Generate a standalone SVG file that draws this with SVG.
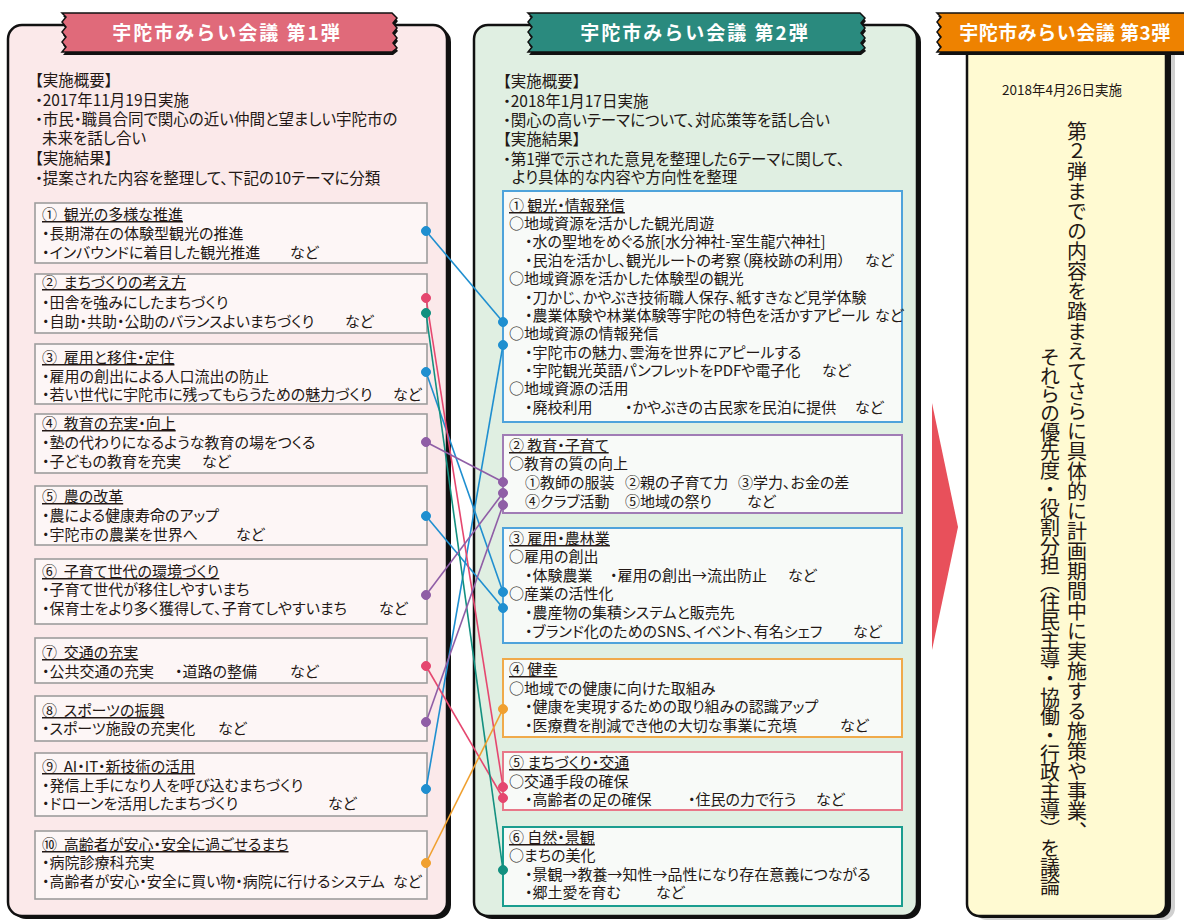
<svg xmlns="http://www.w3.org/2000/svg" width="1184" height="922" viewBox="0 0 1184 922">
<defs>
<style>
.t{font-family:"Noto Sans CJK JP","Noto Sans CJK SC",sans-serif;font-size:15px;fill:#231815;font-feature-settings:"palt";}
.h{font-size:15.5px;}
.u{text-decoration:underline;}
.ban{font-family:"Noto Sans CJK JP","Noto Sans CJK SC",sans-serif;font-size:19px;font-weight:bold;fill:#fff;text-anchor:middle;letter-spacing:2px;}
.lb{fill:#fdf6f6;stroke:#9d9d9d;stroke-width:1.6;}
.mb{fill:#f8faf8;stroke-width:2;}
.vt{font-family:"Noto Sans CJK JP","Noto Sans CJK SC",sans-serif;font-size:20px;fill:#231815;writing-mode:vertical-rl;}
.c{fill:none;stroke-width:1.6;}
.sh{fill:#111;}
.bl{stroke:#1f8fd0;fill:#1f8fd0;}
.pk{stroke:#e5476f;fill:#e5476f;}
.tl{stroke:#139080;fill:#139080;}
.pu{stroke:#8f5ea6;fill:#8f5ea6;}
.or{stroke:#f0a030;fill:#f0a030;}
</style>
</defs>
<rect width="1184" height="922" fill="#fff"/>

<!-- Panel 1 -->
<g id="panel1">
<rect class="sh" x="12" y="28" width="439" height="891" rx="14"/>
<rect x="8" y="25" width="439" height="891" rx="14" fill="#fbe9ea" stroke="#111" stroke-width="2.5"/>
<path class="sh" transform="translate(1,3)" d="M62,13 H392 L397,18 L393,23 L397,28 L393,33 L397,38 L393,43 L397,48 L392,52 H62 L66,47 L62,42 L66,37 L62,32 L66,27 L62,22 L66,17 Z"/>
<path fill="#e06a7a" stroke="#111" stroke-width="1.5" d="M62,13 H392 L397,18 L393,23 L397,28 L393,33 L397,38 L393,43 L397,48 L392,52 H62 L66,47 L62,42 L66,37 L62,32 L66,27 L62,22 L66,17 Z"/>
<text class="ban" x="227" y="40">宇陀市みらい会議 第1弾</text>
<text class="t h" x="35" y="86">【実施概要】</text>
<text class="t h" x="35" y="106">・2017年11月19日実施</text>
<text class="t h" x="35" y="125">・市民・職員合同で関心の近い仲間と望ましい宇陀市の</text>
<text class="t h" x="42" y="144">未来を話し合い</text>
<text class="t h" x="35" y="164">【実施結果】</text>
<text class="t h" x="35" y="184">・提案された内容を整理して、下記の10テーマに分類</text>
</g>

<g id="l1"><rect class="lb" x="35" y="203" width="392" height="60"/>
<text class="t u" x="42" y="220" xml:space="preserve">①  観光の多様な推進</text>
<text class="t" x="42" y="239">・長期滞在の体験型観光の推進</text>
<text class="t" x="42" y="258">・インバウンドに着目した観光推進<tspan x="290">など</tspan></text></g>
<g id="l2"><rect class="lb" x="35" y="274" width="392" height="59"/>
<text class="t u" x="42" y="288" xml:space="preserve">②  まちづくりの考え方</text>
<text class="t" x="42" y="308">・田舎を強みにしたまちづくり</text>
<text class="t" x="42" y="327">・自助・共助・公助のバランスよいまちづくり<tspan x="345">など</tspan></text></g>
<g id="l3"><rect class="lb" x="35" y="344" width="392" height="60"/>
<text class="t u" x="42" y="363" xml:space="preserve">③  雇用と移住・定住</text>
<text class="t" x="42" y="382">・雇用の創出による人口流出の防止</text>
<text class="t" x="42" y="400">・若い世代に宇陀市に残ってもらうための魅力づくり<tspan x="393">など</tspan></text></g>
<g id="l4"><rect class="lb" x="35" y="414" width="392" height="59"/>
<text class="t u" x="42" y="429" xml:space="preserve">④  教育の充実・向上</text>
<text class="t" x="42" y="448">・塾の代わりになるような教育の場をつくる</text>
<text class="t" x="42" y="467">・子どもの教育を充実<tspan x="202">など</tspan></text></g>
<g id="l5"><rect class="lb" x="35" y="486" width="392" height="59"/>
<text class="t u" x="42" y="502" xml:space="preserve">⑤  農の改革</text>
<text class="t" x="42" y="521">・農による健康寿命のアップ</text>
<text class="t" x="42" y="540">・宇陀市の農業を世界へ<tspan x="236">など</tspan></text></g>
<g id="l6"><rect class="lb" x="35" y="559" width="392" height="65"/>
<text class="t u" x="42" y="577" xml:space="preserve">⑥  子育て世代の環境づくり</text>
<text class="t" x="42" y="595">・子育て世代が移住しやすいまち</text>
<text class="t" x="42" y="614">・保育士をより多く獲得して、子育てしやすいまち<tspan x="379">など</tspan></text></g>
<g id="l7"><rect class="lb" x="35" y="638" width="392" height="45"/>
<text class="t u" x="42" y="658" xml:space="preserve">⑦  交通の充実</text>
<text class="t" x="42" y="677">・公共交通の充実<tspan x="175">・道路の整備</tspan><tspan x="290">など</tspan></text></g>
<g id="l8"><rect class="lb" x="35" y="696" width="392" height="45"/>
<text class="t u" x="42" y="716" xml:space="preserve">⑧  スポーツの振興</text>
<text class="t" x="42" y="734">・スポーツ施設の充実化<tspan x="218">など</tspan></text></g>
<g id="l9"><rect class="lb" x="35" y="753" width="392" height="63"/>
<text class="t u" x="42" y="772" xml:space="preserve">⑨  AI・IT・新技術の活用</text>
<text class="t" x="42" y="791">・発信上手になり人を呼び込むまちづくり</text>
<text class="t" x="42" y="809">・ドローンを活用したまちづくり<tspan x="328">など</tspan></text></g>
<g id="l10"><rect class="lb" x="35" y="831" width="392" height="68"/>
<text class="t u" x="42" y="850" xml:space="preserve">⑩  高齢者が安心・安全に過ごせるまち</text>
<text class="t" x="42" y="868">・病院診療科充実</text>
<text class="t" x="42" y="887">・高齢者が安心・安全に買い物・病院に行けるシステム<tspan x="393">など</tspan></text></g>

<!-- Panel 2 -->
<g id="panel2">
<rect class="sh" x="478" y="28" width="443" height="891" rx="14"/>
<rect x="474" y="25" width="443" height="891" rx="14" fill="#e0efe2" stroke="#111" stroke-width="2.5"/>
<path class="sh" transform="translate(1,3)" d="M528,13 H860 L865,18 L861,23 L865,28 L861,33 L865,38 L861,43 L865,48 L860,52 H528 L532,47 L528,42 L532,37 L528,32 L532,27 L528,22 L532,17 Z"/>
<path fill="#2a8a7e" stroke="#111" stroke-width="1.5" d="M528,13 H860 L865,18 L861,23 L865,28 L861,33 L865,38 L861,43 L865,48 L860,52 H528 L532,47 L528,42 L532,37 L528,32 L532,27 L528,22 L532,17 Z"/>
<text class="ban" x="695" y="40">宇陀市みらい会議 第2弾</text>
<text class="t h" x="503" y="87">【実施概要】</text>
<text class="t h" x="503" y="107">・2018年1月17日実施</text>
<text class="t h" x="503" y="126">・関心の高いテーマについて、対応策等を話し合い</text>
<text class="t h" x="503" y="145">【実施結果】</text>
<text class="t h" x="503" y="165">・第1弾で示された意見を整理した6テーマに関して、</text>
<text class="t h" x="512" y="183">より具体的な内容や方向性を整理</text>
</g>

<g id="m1"><rect class="mb" x="503" y="191" width="399" height="231" stroke="#4ea3db"/>
<text class="t u" x="509" y="211">① 観光・情報発信</text>
<text class="t" x="509" y="229">○地域資源を活かした観光周遊</text>
<text class="t" x="525" y="247">・水の聖地をめぐる旅[水分神社-室生龍穴神社]</text>
<text class="t" x="525" y="266">・民泊を活かし、観光ルートの考察（廃校跡の利用）<tspan x="865">など</tspan></text>
<text class="t" x="509" y="284">○地域資源を活かした体験型の観光</text>
<text class="t" x="525" y="303">・刀かじ、かやぶき技術職人保存、紙すきなど見学体験</text>
<text class="t" x="525" y="321">・農業体験や林業体験等宇陀の特色を活かすアピール<tspan x="875">など</tspan></text>
<text class="t" x="509" y="339">○地域資源の情報発信</text>
<text class="t" x="525" y="358">・宇陀市の魅力、雲海を世界にアピールする</text>
<text class="t" x="525" y="376">・宇陀観光英語パンフレットをPDFや電子化<tspan x="822">など</tspan></text>
<text class="t" x="509" y="394">○地域資源の活用</text>
<text class="t" x="525" y="413">・廃校利用<tspan x="625">・かやぶきの古民家を民泊に提供</tspan><tspan x="855">など</tspan></text></g>

<g id="m2"><rect class="mb" x="503" y="435" width="399" height="78" stroke="#a07cb5"/>
<text class="t u" x="509" y="451">② 教育・子育て</text>
<text class="t" x="509" y="469">○教育の質の向上</text>
<text class="t" x="525" y="488">①教師の服装<tspan x="625">②親の子育て力</tspan><tspan x="738">③学力、お金の差</tspan></text>
<text class="t" x="525" y="507">④クラブ活動<tspan x="625">⑤地域の祭り</tspan><tspan x="747">など</tspan></text></g>

<g id="m3"><rect class="mb" x="503" y="528" width="399" height="115" stroke="#4ea3db"/>
<text class="t u" x="509" y="544">③ 雇用・農林業</text>
<text class="t" x="509" y="562">○雇用の創出</text>
<text class="t" x="525" y="581">・体験農業<tspan x="610">・雇用の創出→流出防止</tspan><tspan x="788">など</tspan></text>
<text class="t" x="509" y="599">○産業の活性化</text>
<text class="t" x="525" y="618">・農産物の集積システムと販売先</text>
<text class="t" x="525" y="637">・ブランド化のためのSNS、イベント、有名シェフ<tspan x="853">など</tspan></text></g>

<g id="m4"><rect class="mb" x="503" y="659" width="399" height="78" stroke="#f0aa4a"/>
<text class="t u" x="509" y="675">④ 健幸</text>
<text class="t" x="509" y="694">○地域での健康に向けた取組み</text>
<text class="t" x="525" y="712">・健康を実現するための取り組みの認識アップ</text>
<text class="t" x="525" y="731">・医療費を削減でき他の大切な事業に充填<tspan x="840">など</tspan></text></g>

<g id="m5"><rect class="mb" x="503" y="752" width="399" height="58" stroke="#e87889"/>
<text class="t u" x="509" y="768">⑤ まちづくり・交通</text>
<text class="t" x="509" y="787">○交通手段の確保</text>
<text class="t" x="525" y="805">・高齢者の足の確保<tspan x="688">・住民の力で行う</tspan><tspan x="816">など</tspan></text></g>

<g id="m6"><rect class="mb" x="503" y="827" width="399" height="79" stroke="#1a9d8f"/>
<text class="t u" x="509" y="843">⑥ 自然・景観</text>
<text class="t" x="509" y="861">○まちの美化</text>
<text class="t" x="525" y="880">・景観→教養→知性→品性になり存在意義につながる</text>
<text class="t" x="525" y="898">・郷土愛を育む<tspan x="656">など</tspan></text></g>

<!-- Arrow -->
<g id="arrow"><polygon points="932,403 958,527 932,650" fill="#e8505b"/></g>

<!-- Panel 3 -->
<g id="panel3">
<rect x="975" y="44" width="200" height="876" rx="12" fill="#d0d0d0"/>
<rect class="sh" x="971" y="42" width="200" height="876" rx="12"/>
<rect x="967" y="40" width="199" height="876" rx="12" fill="#fffad2" stroke="#111" stroke-width="2.5"/>
<path class="sh" transform="translate(1,3)" d="M937,13 H1190 V52 H937 L941,47 L937,42 L941,37 L937,32 L941,27 L937,22 L941,17 Z"/>
<path fill="#ee8200" stroke="#111" stroke-width="1.5" d="M937,13 H1190 V52 H937 L941,47 L937,42 L941,37 L937,32 L941,27 L937,22 L941,17 Z"/>
<text class="ban" x="1065" y="40" style="letter-spacing:0.5px">宇陀市みらい会議 第3弾</text>
<text class="t" x="1062" y="95" style="font-size:13.5px;text-anchor:middle">2018年4月26日実施</text>
<text class="vt" x="1077" y="121">第２弾までの内容を踏まえてさらに具体的に計画期間中に実施する施策や事業、</text>
<text class="vt" x="1050" y="347" style="letter-spacing:-1.1px">それらの優先度・役割分担（住民主導・協働・行政主導）を議論</text>
</g>

<!-- Connectors -->
<g id="connectors">
<line class="c bl" x1="426" y1="231" x2="503" y2="322"/>
<line class="c bl" x1="426" y1="372" x2="503" y2="592"/>
<line class="c bl" x1="426" y1="516" x2="503" y2="608"/>
<line class="c bl" x1="426" y1="789" x2="503" y2="345"/>
<line class="c pk" x1="426" y1="298" x2="503" y2="787"/>
<line class="c pk" x1="426" y1="666" x2="503" y2="798"/>
<line class="c tl" x1="426" y1="313" x2="503" y2="870"/>
<line class="c pu" x1="426" y1="442" x2="503" y2="482"/>
<line class="c pu" x1="426" y1="595" x2="503" y2="493"/>
<line class="c pu" x1="426" y1="722" x2="503" y2="505"/>
<line class="c or" x1="426" y1="863" x2="503" y2="709"/>
<g stroke="none">
<circle class="bl" cx="426" cy="231" r="4.5"/><circle class="bl" cx="503" cy="322" r="4.5"/>
<circle class="bl" cx="426" cy="372" r="4.5"/><circle class="bl" cx="503" cy="592" r="4.5"/>
<circle class="bl" cx="426" cy="516" r="4.5"/><circle class="bl" cx="503" cy="608" r="4.5"/>
<circle class="bl" cx="426" cy="789" r="4.5"/><circle class="bl" cx="503" cy="345" r="4.5"/>
<circle class="pk" cx="426" cy="298" r="4.5"/><circle class="pk" cx="503" cy="787" r="4.5"/>
<circle class="pk" cx="426" cy="666" r="4.5"/><circle class="pk" cx="503" cy="798" r="4.5"/>
<circle class="tl" cx="426" cy="313" r="4.5"/><circle class="tl" cx="503" cy="870" r="4.5"/>
<circle class="pu" cx="426" cy="442" r="4.5"/><circle class="pu" cx="503" cy="482" r="4.5"/>
<circle class="pu" cx="426" cy="595" r="4.5"/><circle class="pu" cx="503" cy="493" r="4.5"/>
<circle class="pu" cx="426" cy="722" r="4.5"/><circle class="pu" cx="503" cy="505" r="4.5"/>
<circle class="or" cx="426" cy="863" r="4.5"/><circle class="or" cx="503" cy="709" r="4.5"/>
</g>
</g>
</svg>
